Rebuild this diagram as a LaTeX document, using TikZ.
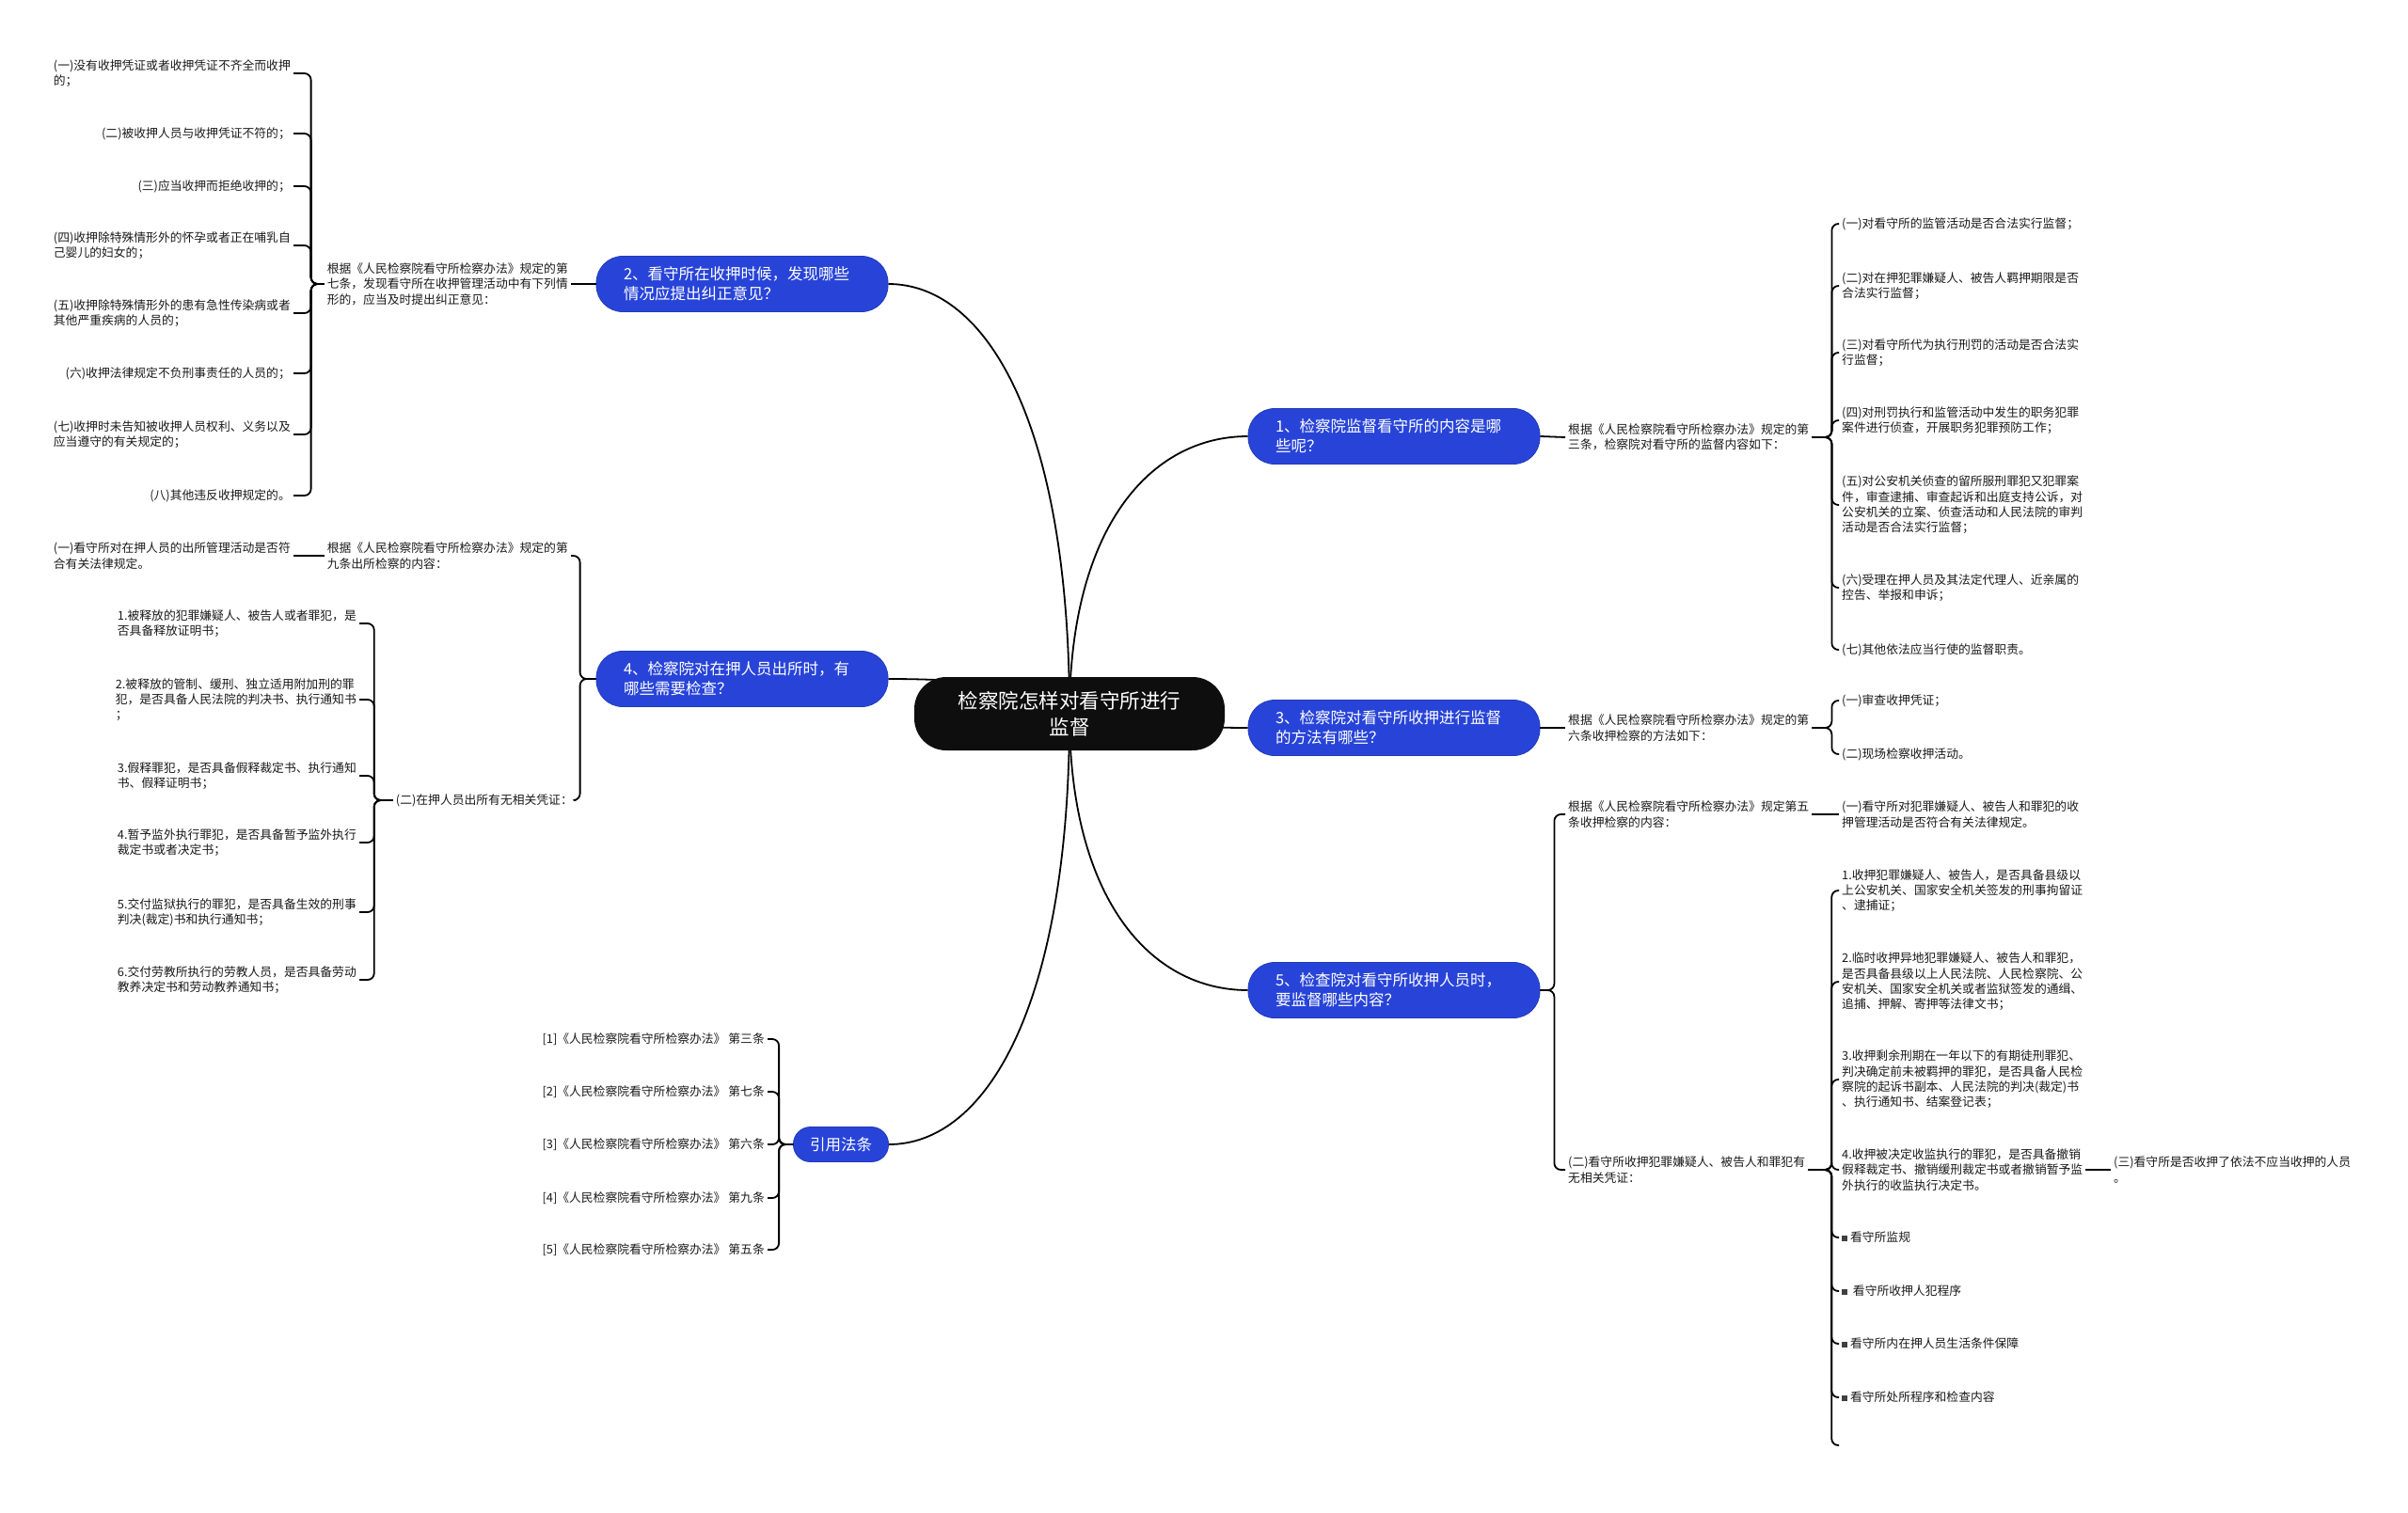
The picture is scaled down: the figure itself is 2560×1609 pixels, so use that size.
\documentclass[tikz,border=0pt]{standalone}
\usepackage{fontspec}
\setmainfont{Noto Sans CJK SC}
\usetikzlibrary{backgrounds}
\definecolor{topicblue}{RGB}{40,68,216}
\definecolor{rootblack}{RGB}{14,14,14}
\newcommand\sqbullet{\textcolor{black!75}{\rule[0.5pt]{6pt}{6pt}}}
\begin{document}
\begin{tikzpicture}[x=1pt,y=-1pt,
  rootbox/.style={fill=rootblack,text=white,rounded corners=34pt,minimum width=330pt,minimum height=78pt,align=center,font=\fontsize{21.5}{28}\selectfont},
  bluebox/.style={fill=topicblue,draw=topicblue!85!black,line width=0.8pt,text=white,font=\fontsize{16.5}{21}\selectfont},
  topicbox/.style={bluebox,rounded corners=28pt,minimum height=59pt,text width=252pt,inner xsep=29pt,align=left},
  citebox/.style={bluebox,rounded corners=18pt,minimum width=101pt,minimum height=37pt},
  notebox/.style={inner sep=3pt,align=left,text=black!90,font=\fontsize{12.8}{16.3}\selectfont},
  linkline/.style={line width=1.8pt},
  hookline/.style={line width=1.8pt,rounded corners=7pt}]
\useasboundingbox (0,0) rectangle (2560,1609);
% centre and main topics
\node[rootbox] (root) at (1137,759) {检察院怎样对看守所进行\\监督};
\node[topicbox] (q2) at (789,302) {2、看守所在收押时候，发现哪些\\情况应提出纠正意见？};
\node[topicbox] (q4) at (789,722) {4、检察院对在押人员出所时，有\\哪些需要检查？};
\node[citebox] (cite) at (894,1217) {引用法条};
\node[topicbox] (q1) at (1482,464) {1、检察院监督看守所的内容是哪\\些呢？};
\node[topicbox] (q3) at (1482,774) {3、检察院对看守所收押进行监督\\的方法有哪些？};
\node[topicbox] (q5) at (1482,1053) {5、检查院对看守所收押人员时，\\要监督哪些内容？};
% topic 2
\node[notebox,anchor=east] (a2) at (607,302) {根据《人民检察院看守所检察办法》规定的第\\七条，发现看守所在收押管理活动中有下列情\\形的，应当及时提出纠正意见：};
\draw[linkline] (q2.west) -- (a2.east);
\foreach \y/\t [count=\i] in {78/{(一)没有收押凭证或者收押凭证不齐全而收押\\的；},142/{(二)被收押人员与收押凭证不符的；},198/{(三)应当收押而拒绝收押的；},261/{(四)收押除特殊情形外的怀孕或者正在哺乳自\\己婴儿的妇女的；},333/{(五)收押除特殊情形外的患有急性传染病或者\\其他严重疾病的人员的；},397/{(六)收押法律规定不负刑事责任的人员的；},462/{(七)收押时未告知被收押人员权利、义务以及\\应当遵守的有关规定的；},527/{(八)其他违反收押规定的。}} {\node[notebox,anchor=east] (a2-\i) at (312,\y) {\t}; \draw[hookline] (a2.west) -- ++(-14,0) |- (a2-\i.east);}
% topic 4
\node[notebox,anchor=east] (a4) at (607,591) {根据《人民检察院看守所检察办法》规定的第\\九条出所检察的内容：};
\node[notebox,anchor=east] (b4) at (612,851) {(二)在押人员出所有无相关凭证：};
\draw[hookline] (q4.west) -- ++(-17,0) |- (a4.east);
\draw[hookline] (q4.west) -- ++(-17,0) |- (b4.east);
\node[notebox,anchor=east] (a4x) at (312,591) {(一)看守所对在押人员的出所管理活动是否符\\合有关法律规定。};
\draw[linkline] (a4.west) -- (a4x.east);
\foreach \y/\t [count=\i] in {663/{1.被释放的犯罪嫌疑人、被告人或者罪犯，是\\否具备释放证明书；},744/{2.被释放的管制、缓刑、独立适用附加刑的罪\\犯，是否具备人民法院的判决书、执行通知书\\；},825/{3.假释罪犯，是否具备假释裁定书、执行通知\\书、假释证明书；},896/{4.暂予监外执行罪犯，是否具备暂予监外执行\\裁定书或者决定书；},970/{5.交付监狱执行的罪犯，是否具备生效的刑事\\判决(裁定)书和执行通知书；},1042/{6.交付劳教所执行的劳教人员，是否具备劳动\\教养决定书和劳动教养通知书；}} {\node[notebox,anchor=east] (b4-\i) at (382,\y) {\t}; \draw[hookline] (b4.west) -- ++(-20,0) |- (b4-\i.east);}
% cited articles
\foreach \y/\t [count=\i] in {1105/{[1]《人民检察院看守所检察办法》 第三条},1161/{[2]《人民检察院看守所检察办法》 第七条},1217/{[3]《人民检察院看守所检察办法》 第六条},1274/{[4]《人民检察院看守所检察办法》 第九条},1329/{[5]《人民检察院看守所检察办法》 第五条}} {\node[notebox,anchor=east] (cite-\i) at (816,\y) {\t}; \draw[hookline] (cite.west) -- ++(-15,0) |- (cite-\i.east);}
% topic 1
\node[notebox,anchor=west] (a1) at (1664,465) {根据《人民检察院看守所检察办法》规定的第\\三条，检察院对看守所的监督内容如下：};
\draw[linkline] (q1.east) -- (a1.west);
\foreach \y/\t [count=\i] in {238/{(一)对看守所的监管活动是否合法实行监督；},304/{(二)对在押犯罪嫌疑人、被告人羁押期限是否\\合法实行监督；},375/{(三)对看守所代为执行刑罚的活动是否合法实\\行监督；},447/{(四)对刑罚执行和监管活动中发生的职务犯罪\\案件进行侦查，开展职务犯罪预防工作；},537/{(五)对公安机关侦查的留所服刑罪犯又犯罪案\\件，审查逮捕、审查起诉和出庭支持公诉，对\\公安机关的立案、侦查活动和人民法院的审判\\活动是否合法实行监督；},625/{(六)受理在押人员及其法定代理人、近亲属的\\控告、举报和申诉；},691/{(七)其他依法应当行使的监督职责。}} {\node[notebox,anchor=west] (a1-\i) at (1955,\y) {\t}; \draw[hookline] (a1.east) -- ++(21,0) |- (a1-\i.west);}
% topic 3
\node[notebox,anchor=west] (a3) at (1664,774) {根据《人民检察院看守所检察办法》规定的第\\六条收押检察的方法如下：};
\draw[linkline] (q3.east) -- (a3.west);
\foreach \y/\t [count=\i] in {745/{(一)审查收押凭证；},802/{(二)现场检察收押活动。}} {\node[notebox,anchor=west] (a3-\i) at (1955,\y) {\t}; \draw[hookline] (a3.east) -- ++(21,0) |- (a3-\i.west);}
% topic 5
\node[notebox,anchor=west] (a5) at (1664,866) {根据《人民检察院看守所检察办法》规定第五\\条收押检察的内容：};
\node[notebox,anchor=west] (b5) at (1664,1244) {(二)看守所收押犯罪嫌疑人、被告人和罪犯有\\无相关凭证：};
\draw[hookline] (q5.east) -- ++(15,0) |- (a5.west);
\draw[hookline] (q5.east) -- ++(15,0) |- (b5.west);
\node[notebox,anchor=west] (a5x) at (1955,866) {(一)看守所对犯罪嫌疑人、被告人和罪犯的收\\押管理活动是否符合有关法律规定。};
\draw[linkline] (a5.east) -- (a5x.west);
\foreach \y/\t [count=\i] in {947/{1.收押犯罪嫌疑人、被告人，是否具备县级以\\上公安机关、国家安全机关签发的刑事拘留证\\、逮捕证；},1044/{2.临时收押异地犯罪嫌疑人、被告人和罪犯，\\是否具备县级以上人民法院、人民检察院、公\\安机关、国家安全机关或者监狱签发的通缉、\\追捕、押解、寄押等法律文书；},1148/{3.收押剩余刑期在一年以下的有期徒刑罪犯、\\判决确定前未被羁押的罪犯，是否具备人民检\\察院的起诉书副本、人民法院的判决(裁定)书\\、执行通知书、结案登记表；},1244/{4.收押被决定收监执行的罪犯，是否具备撤销\\假释裁定书、撤销缓刑裁定书或者撤销暂予监\\外执行的收监执行决定书。},1316/{\sqbullet\ 看守所监规},1373/{\sqbullet\ \ 看守所收押人犯程序},1429/{\sqbullet\ 看守所内在押人员生活条件保障},1486/{\sqbullet\ 看守所处所程序和检查内容},1537/{}} {\node[notebox,anchor=west] (b5-\i) at (1955,\y) {\t}; \draw[hookline] (b5.east) -- ++(25,0) |- (b5-\i.west);}
\node[notebox,anchor=west] (b5x) at (2244,1244) {(三)看守所是否收押了依法不应当收押的人员\\。};
\draw[linkline] (b5-4.east) -- (b5x.west);
% links from the centre
\begin{scope}[on background layer]
\draw[linkline] (root.center) .. controls (1137,453) and (1050,302) .. (q2.east);
\draw[linkline] (root.center) .. controls (1137,734) and (1050,722) .. (q4.east);
\draw[linkline] (root.center) .. controls (1137,1066) and (1050,1217) .. (cite.east);
\draw[linkline] (root.center) .. controls (1137,561) and (1223,464) .. (q1.west);
\draw[linkline] (root.center) .. controls (1180,759) and (1223,774) .. (q3.west);
\draw[linkline] (root.center) .. controls (1137,956) and (1223,1053) .. (q5.west);
\end{scope}
\end{tikzpicture}
\end{document}
